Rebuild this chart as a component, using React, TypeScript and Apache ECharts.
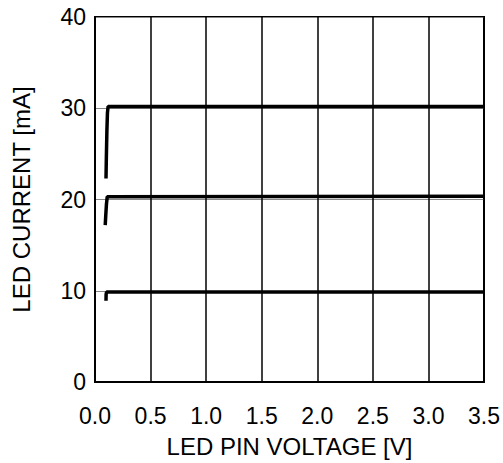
import React, { useEffect, useRef } from "react";
import * as echarts from "echarts";

const xTicks = [0, 0.5, 1.0, 1.5, 2.0, 2.5, 3.0, 3.5];
const yTicks = [0, 10, 20, 30, 40];

const curve10V = [0.099, 0.1, 0.104, 3.5];
const curve10I = [8.9, 9.6, 9.85, 9.85];

const curve20V = [0.092, 0.097, 0.103, 0.11, 3.5];
const curve20I = [17.2, 18.3, 19.5, 20.3, 20.35];

const curve30V = [0.099, 0.102, 0.107, 0.112, 0.118, 3.5];
const curve30I = [22.3, 24.5, 27.5, 29.5, 30.2, 30.2];

const FONT = "'Liberation Sans', Arial, sans-serif";

function pairs(v: number[], i: number[]) {
  return v.map((x, k) => [x, i[k]]);
}

export default function App() {
  const ref = useRef<HTMLDivElement>(null);
  useEffect(() => {
    document.body.style.margin = "0";
    const chart = echarts.init(ref.current!, null, { renderer: "svg" });
    const lineStyle = { color: "#000", width: 3.5 };
    chart.setOption({
      animation: false,
      backgroundColor: "#fff",
      textStyle: { fontFamily: FONT },
      grid: {
        left: 95,
        right: 19,
        top: 17,
        bottom: 81,
        show: true,
        borderColor: "#000",
        borderWidth: 2,
        backgroundColor: "transparent",
      },
      xAxis: {
        type: "value",
        min: xTicks[0],
        max: xTicks[xTicks.length - 1],
        interval: 0.5,
        name: "LED PIN VOLTAGE [V]",
        nameLocation: "middle",
        nameGap: 52,
        nameTextStyle: { fontSize: 24, color: "#000", fontFamily: FONT },
        axisLine: { show: true, lineStyle: { color: "#000", width: 2 } },
        axisTick: { show: false },
        axisLabel: {
          fontSize: 23,
          color: "#000",
          fontFamily: FONT,
          margin: 22,
          formatter: (v: number) => v.toFixed(1),
        },
        splitLine: { show: true, lineStyle: { color: "#000", width: 1.5 } },
      },
      yAxis: {
        type: "value",
        min: yTicks[0],
        max: yTicks[yTicks.length - 1],
        interval: 10,
        name: "LED CURRENT [mA]",
        nameLocation: "middle",
        nameGap: 62,
        nameTextStyle: { fontSize: 24, color: "#000", fontFamily: FONT },
        axisLine: { show: true, lineStyle: { color: "#000", width: 2 } },
        axisTick: { show: false },
        axisLabel: { fontSize: 23, color: "#000", fontFamily: FONT, margin: 9 },
        splitLine: { show: true, lineStyle: { color: "#888", width: 1 } },
      },
      series: [
        {
          type: "line",
          data: pairs(curve10V, curve10I),
          showSymbol: false,
          lineStyle,
          silent: true,
        },
        {
          type: "line",
          data: pairs(curve20V, curve20I),
          showSymbol: false,
          lineStyle,
          silent: true,
        },
        {
          type: "line",
          data: pairs(curve30V, curve30I),
          showSymbol: false,
          lineStyle,
          silent: true,
        },
      ],
    });
    return () => chart.dispose();
  }, []);
  return (
    <div
      ref={ref}
      style={{ position: "absolute", left: 0, top: 0, width: 503, height: 463 }}
    />
  );
}
